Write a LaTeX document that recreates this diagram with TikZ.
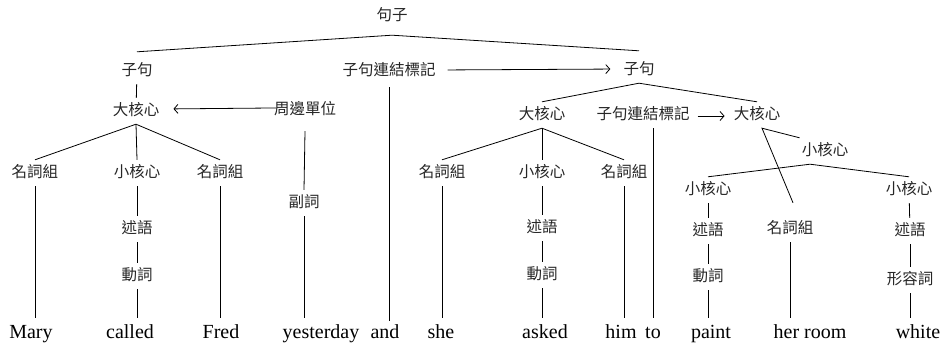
\documentclass[tikz,border=0pt]{standalone}
\usepackage{fontspec}
\setmainfont{Liberation Serif}
\newfontfamily\cjk{Noto Sans CJK TC}
\usetikzlibrary{arrows.meta,calc}
\begin{document}
\begin{tikzpicture}[x=1pt,y=-1pt,
  cn/.style={font=\cjk\fontsize{15.5}{18}\selectfont, text=black!85, inner xsep=2pt, inner ysep=5.5pt, text height=12pt, text depth=3pt},
  wd/.style={font=\fontsize{20}{24}\selectfont, inner xsep=0pt, inner ysep=6pt, text height=14pt, text depth=4pt, anchor=base},
  ln/.style={line width=0.8pt},
  ar/.style={ln, -{Straight Barb[length=4pt,width=9pt]}}]
\useasboundingbox (0,0) rectangle (945,345);
% top
\node[cn] (s) at (392,16) {句子};
\node[cn] (c1) at (137,71) {子句};
\node[cn] (cm1) at (389,71) {子句連結標記};
\node[cn] (c2) at (639,70) {子句};
% row 2
\node[cn] (bh1) at (136,111) {大核心};
\node[cn] (pe) at (305,110) {周邊單位};
\node[cn] (bh2) at (542,115) {大核心};
\node[cn] (cm2) at (643,115) {子句連結標記};
\node[cn] (bh3) at (757,115) {大核心};
\node[cn] (xh3) at (825,151) {小核心};
% row 3
\node[cn] (np1) at (35,173) {名詞組};
\node[cn] (xh1) at (137,173) {小核心};
\node[cn] (np2) at (220,173) {名詞組};
\node[cn] (adv) at (304,203) {副詞};
\node[cn] (np3) at (442,173) {名詞組};
\node[cn] (xh2) at (542,173) {小核心};
\node[cn] (np4) at (624,173) {名詞組};
\node[cn] (xh4) at (708,190) {小核心};
\node[cn] (np5) at (790,229) {名詞組};
\node[cn] (xh5) at (909,190) {小核心};
% row 4
\node[cn] (pr1) at (137,229) {述語};
\node[cn] (vb1) at (137,276) {動詞};
\node[cn] (pr2) at (542,228) {述語};
\node[cn] (vb2) at (542,275) {動詞};
\node[cn] (pr4) at (708,231) {述語};
\node[cn] (vb4) at (708,277) {動詞};
\node[cn] (pr5) at (910,231) {述語};
\node[cn] (adj) at (910,280) {形容詞};
% words
\node[wd] (wMary) at (31,338) {Mary};
\node[wd] (wcalled) at (130,338) {called};
\node[wd] (wFred) at (221,338) {Fred};
\node[wd] (wyest) at (321,338) {yesterday};
\node[wd] (wand) at (385,338) {and};
\node[wd] (wshe) at (441,338) {she};
\node[wd] (wasked) at (545,338) {asked};
\node[wd] (whim) at (621,338) {him};
\node[wd] (wto) at (653,338) {to};
\node[wd] (wpaint) at (711,338) {paint};
\node[wd] (wroom) at (810,338) {her room};
\node[wd] (wwhite) at (918,338) {white};
% connectors
\draw[ln] ([yshift=6pt]c1.north) -- ([yshift=-6pt]s.south) -- ([yshift=6pt]c2.north);
\draw[ln] (c1) -- (bh1);
\draw[ln] (np1.north) -- (bh1.south) -- (np2.north);
\draw[ln] (bh1.south) -- (xh1.north);
\draw[ln] (xh1) -- (pr1);
\draw[ln] (pr1) -- (vb1);
\draw[ln] (vb1.south) -- (vb1.south |- wcalled.north);
\draw[ln] (np1.south) -- (np1.south |- wMary.north);
\draw[ln] (np2.south) -- (np2.south |- wFred.north);
\draw[ar, shorten <=-4pt, shorten >=12pt] ([yshift=2pt]pe.west) -- ([yshift=2pt]bh1.east);
\draw[ln] ([yshift=-8pt]pe.south) -- (adv.north);
\draw[ln] (adv.south) -- (adv.south |- wyest.north);
\draw[ar, shorten <=10pt, shorten >=11pt] ([yshift=1pt]cm1.east) -- ([yshift=1pt]c2.west);
\draw[ln] ([yshift=-3pt]cm1.south) -- ([yshift=-3pt]cm1.south |- wand.north);
\draw[ln] (bh2.north) -- (c2.south) -- (bh3.north);
\draw[ln] (np3.north) -- (bh2.south) -- (np4.north);
\draw[ln] (bh2.south) -- (xh2.north);
\draw[ln] (np3.south) -- (np3.south |- wshe.north);
\draw[ln] (xh2) -- (pr2);
\draw[ln] (pr2) -- (vb2);
\draw[ln] (vb2.south) -- (vb2.south |- wasked.north);
\draw[ln] (np4.south) -- (np4.south |- whim.north);
\draw[ln] (wto.north) -- (wto.north |- cm2.south);
\draw[ar, shorten <=6pt, shorten >=7pt] ([yshift=-1pt]cm2.east) -- ([yshift=-1pt]bh3.west);
\draw[ln] (xh3.north west) -- ([xshift=5pt]bh3.south) -- ([xshift=3pt,yshift=13pt]np5.north);
\draw[ln] (xh4.north) -- ([xshift=-15pt]xh3.south) -- (xh5.north);
\draw[ln] (xh4) -- (pr4);
\draw[ln] (pr4) -- (vb4);
\draw[ln] (vb4.south) -- (vb4.south |- wpaint.north);
\draw[ln] (np5.south) -- (np5.south |- wroom.north);
\draw[ln] (xh5) -- (pr5);
\draw[ln] (pr5) -- (adj);
\draw[ln] (adj.south) -- (adj.south |- wwhite.north);
\end{tikzpicture}
\end{document}
